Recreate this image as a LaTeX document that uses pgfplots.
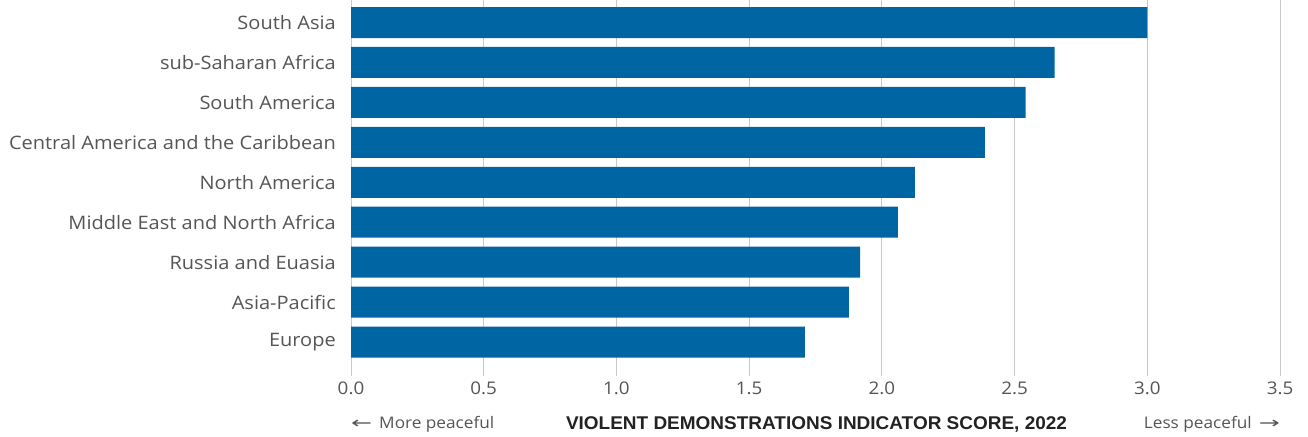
\documentclass[border=0pt]{standalone}
\usepackage{fontspec}
\setmainfont{Open Sans}[FakeStretch=1.08]
\newfontfamily\titlefont{Liberation Sans}
\newfontfamily\arrowfont{DejaVu Sans}
\usepackage{graphicx}
\usepackage{pgfplots}
\pgfplotsset{compat=1.18}
\definecolor{barblue}{HTML}{0065A3}
\definecolor{txt}{HTML}{555555}
\definecolor{gridc}{HTML}{C8C8C8}
\definecolor{dark}{HTML}{222222}
\begin{document}
\begin{tikzpicture}[x=1bp,y=1bp]
\path[use as bounding box] (0,0) rectangle (1308,437);
\begin{axis}[
  at={(351bp,69bp)}, anchor=south west,
  scale only axis, width=929bp, height=361bp,
  xmin=0, xmax=3.5, ymin=-0.65, ymax=8.39,
  xbar, bar width=31bp, bar shift=0pt,
  xtick={0,0.5,1,1.5,2,2.5,3,3.5},
  ytick={0,1,2,3,4,5,6,7,8},
  yticklabels={Europe, Asia-Pacific, Russia and Euasia, Middle East and North Africa, North America, Central America and the Caribbean, South America, sub-Saharan Africa, South Asia},
  xmajorgrids, grid style={gridc, line width=1bp},
  axis line style={draw=none},
  tick align=outside,
  major tick length=8bp,
  xtick style={gridc, line width=1bp},
  ytick style={draw=none},
  yticklabel style={font=\fontsize{18.6}{21}\selectfont, text=txt, inner sep=0pt, xshift=-7bp},
  xticklabel style={font=\fontsize{17.5}{20}\selectfont, text=txt, inner sep=0pt, yshift=-6bp,
    /pgf/number format/.cd, fixed, fixed zerofill, precision=1, assume math mode=true},
]
\addplot[fill=barblue, draw=none] coordinates {
  (1.710,0) (1.876,1) (1.918,2) (2.060,3) (2.124,4) (2.388,5) (2.542,6) (2.651,7) (3.0,8)};
\end{axis}
\node[anchor=west, text=txt, font=\fontsize{16}{18}\selectfont, inner sep=0pt] at (351,13) {\resizebox{21bp}{\height}{\arrowfont ←}\hspace{7bp}More peaceful};
\node[anchor=east, text=txt, font=\fontsize{16}{18}\selectfont, inner sep=0pt] at (1280,13) {Less peaceful\hspace{7bp}\resizebox{21bp}{\height}{\arrowfont →}};
\node[text=dark, inner sep=0pt] at (816.5,13) {\resizebox{501bp}{\height}{\titlefont\fontsize{18.5}{20}\selectfont\bfseries VIOLENT DEMONSTRATIONS INDICATOR SCORE, 2022}};
\end{tikzpicture}
\end{document}
